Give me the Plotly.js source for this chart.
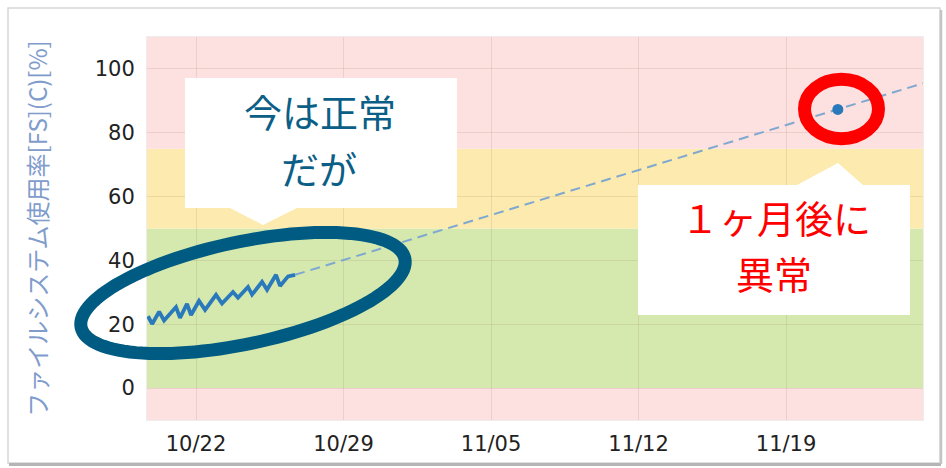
<!DOCTYPE html>
<html>
<head>
<meta charset="utf-8">
<script src="https://cdn.plot.ly/plotly-3.0.1.min.js"></script>
<style>html,body{margin:0;padding:0;background:#fff;}#chart{width:946px;height:468px;}</style>
</head>
<body>
<div id="chart"></div>
<script>
// ---- data ----
const usageTimes = [
  '2018-10-19 17:20','2018-10-19 22:00','2018-10-20 06:00','2018-10-20 11:36',
  '2018-10-21 01:12','2018-10-21 05:48','2018-10-21 13:42','2018-10-21 18:18',
  '2018-10-22 03:24','2018-10-22 10:18','2018-10-22 22:48','2018-10-23 05:36',
  '2018-10-23 18:06','2018-10-23 23:48','2018-10-24 11:12','2018-10-24 15:48',
  '2018-10-25 03:12','2018-10-25 08:54','2018-10-25 19:06','2018-10-25 23:42',
  '2018-10-26 08:48','2018-10-26 16:48'
];
const usageValues = [
  22.5, 20.1, 23.9, 21.2,
  25.4, 22.0, 26.4, 22.9,
  27.3, 24.5, 29.2, 26.5,
  30.1, 28.3, 31.7, 29.3,
  33.3, 30.8, 35.5, 32.0,
  35.0, 35.5
];
const trendTimes = ['2018-10-26 16:48', '2018-11-25 12:00'];
const trendValues = [35.5, 95.5];
const forecastTime = ['2018-11-21 11:00'];
const forecastValue = [87.3];
const bandBounds = [-10, 0, 50, 75, 110];
const bandColors = ['#fde1e1', '#d5e9ae', '#fdeaae', '#fde1e1'];
const yTicks = [0, 20, 40, 60, 80, 100];
const xTickStart = '2018-10-22';
const xRange = ['2018-10-19 16:10', '2018-11-25 12:00'];
const yTitle = 'ファイルシステム使用率[FS](C)[%]';
const noteNow = ['今は正常', 'だが'];
const noteLater = ['１ヶ月後に', '異常'];

// ---- geometry helpers (pixel -> paper) ----
const L = 147, R = 23, T = 37, B = 48, FW = 946, FH = 468;
const W = FW - L - R, H = FH - T - B;
const px = x => (x - L) / W;
const py = y => (FH - B - y) / H;
const pathOf = pts => 'M ' + pts.map(p => px(p[0]).toFixed(5) + ',' + py(p[1]).toFixed(5)).join(' L ') + ' Z';

function rotEllipse(cx, cy, a, b, degCCW) {
  const th = degCCW * Math.PI / 180, pts = [];
  for (let i = 0; i < 120; i++) {
    const t = i / 120 * 2 * Math.PI;
    const ex = a * Math.cos(t), ey = b * Math.sin(t);
    pts.push([cx + ex * Math.cos(th) - ey * Math.sin(th), cy - (ex * Math.sin(th) + ey * Math.cos(th))]);
  }
  return pathOf(pts);
}

const shapes = [];
for (let i = 0; i < bandColors.length; i++) {
  shapes.push({type:'rect', xref:'paper', yref:'y', x0:0, x1:1, y0:bandBounds[i], y1:bandBounds[i+1],
    fillcolor:bandColors[i], line:{width:0}, layer:'below'});
}
// callout boxes
shapes.push({type:'path', xref:'paper', yref:'paper', layer:'above', fillcolor:'#ffffff', line:{width:0},
  path: pathOf([[185,78],[457,78],[457,208],[297,208],[263,225],[230,208],[185,208]])});
shapes.push({type:'path', xref:'paper', yref:'paper', layer:'above', fillcolor:'#ffffff', line:{width:0},
  path: pathOf([[638,185],[797,185],[838,163],[863,185],[910,185],[910,315],[638,315]])});
// highlight ellipses
shapes.push({type:'path', xref:'paper', yref:'paper', layer:'above', line:{color:'#005b82', width:13},
  path: rotEllipse(243, 293, 165.5, 51, 12)});
shapes.push({type:'circle', xref:'paper', yref:'paper', layer:'above', line:{color:'#ff0000', width:13},
  x0:px(841.5-37), x1:px(841.5+37), y0:py(109+29.7), y1:py(109-29.7)});
// screenshot frame
shapes.push({type:'rect', xref:'paper', yref:'paper', layer:'above', line:{color:'#d6d6d6', width:1.5},
  x0:px(8), x1:px(940), y0:py(463), y1:py(8)});
shapes.push({type:'line', xref:'paper', yref:'paper', layer:'above', line:{color:'#b5b5b5', width:3},
  x0:px(9), x1:px(941), y0:py(464.5), y1:py(464.5)});
shapes.push({type:'line', xref:'paper', yref:'paper', layer:'above', line:{color:'#c4c4c4', width:2.5},
  x0:px(941), x1:px(941), y0:py(10), y1:py(464)});

const noteFont = (c) => ({family:'Noto Sans CJK JP', size:38, color:c});
const note = (x, y, text, c) => ({xref:'paper', yref:'paper', x:px(x), y:py(y), xanchor:'center', yanchor:'middle',
  text:text, showarrow:false, font:noteFont(c)});
const annotations = [
  note(320, 111, noteNow[0], '#0b5e85'),
  note(319, 167, noteNow[1], '#0b5e85'),
  note(776, 216, noteLater[0], '#ff0000'),
  note(774, 272, noteLater[1], '#ff0000')
];

const traces = [
  {x:trendTimes, y:trendValues, type:'scatter', mode:'lines',
   line:{color:'#7fa8d0', width:2, dash:'10px,6px'}, hoverinfo:'skip'},
  {x:usageTimes, y:usageValues, type:'scatter', mode:'lines',
   line:{color:'#2a79bb', width:3.8}, hoverinfo:'skip'},
  {x:forecastTime, y:forecastValue, type:'scatter', mode:'markers',
   marker:{color:'#2a79bb', size:11}, hoverinfo:'skip'}
];

const layout = {
  width:FW, height:FH,
  margin:{l:L, r:R, t:T, b:B, pad:0},
  paper_bgcolor:'#ffffff', plot_bgcolor:'#ffffff',
  showlegend:false,
  font:{family:'DejaVu Sans', color:'#333333'},
  xaxis:{type:'date', range:xRange, tick0:xTickStart, dtick:7*24*3600*1000, tickformat:'%m/%d',
    showgrid:true, gridcolor:'rgba(120,90,60,0.13)', gridwidth:1, zeroline:false,
    ticks:'outside', ticklen:5, tickcolor:'rgba(0,0,0,0)', tickfont:{size:21, color:'#222'},
    showline:true, linecolor:'rgba(120,100,100,0.12)', mirror:true, automargin:false},
  yaxis:{range:[-10,110], tickvals:yTicks, showgrid:true, gridcolor:'rgba(120,90,60,0.13)', zeroline:false,
    ticks:'outside', ticklen:7, tickcolor:'rgba(0,0,0,0)', tickfont:{size:21, color:'#222'},
    showline:true, linecolor:'rgba(120,100,100,0.12)', mirror:true, automargin:false,
    title:{text:yTitle, font:{family:'Noto Sans CJK JP', size:24, color:'#7f9ccc'}, standoff:40}},
  shapes:shapes,
  annotations:annotations
};

Plotly.newPlot('chart', traces, layout, {displayModeBar:false, staticPlot:true});
</script>
</body>
</html>
